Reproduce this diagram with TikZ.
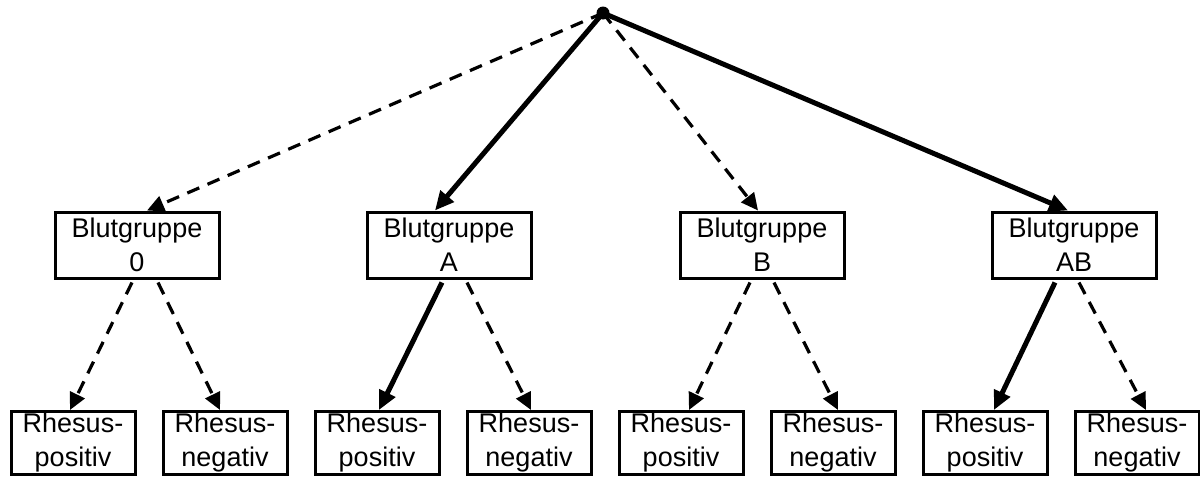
\documentclass[tikz,border=0pt]{standalone}
\usepackage{fontspec}
\setmainfont{Liberation Sans}
\usetikzlibrary{arrows.meta,calc}
\begin{document}
\begin{tikzpicture}[x=1pt,y=-1pt,
  every node/.style={font=\fontsize{27}{34}\selectfont},
  gbox/.style={draw,line width=3pt,minimum width=164pt,minimum height=66pt,inner sep=0pt,align=center},
  rbox/.style={draw,line width=3pt,minimum width=124pt,minimum height=63pt,inner sep=0pt,align=center},
  solidarrow/.style={line width=5pt,-{Triangle[length=19pt,width=17pt]}},
  dasharrow/.style={line width=3.2pt,dash pattern=on 13pt off 9pt,-{Triangle[length=17pt,width=16pt]}}]
\useasboundingbox (0,0) rectangle (1200,477);
\node[circle,fill,inner sep=0pt,minimum size=13pt] (root) at (603,13) {};
\node[gbox] (g0) at (137,245) {Blutgruppe\\0};
\node[gbox] (gA) at (449,245) {Blutgruppe\\A};
\node[gbox] (gB) at (762,245) {Blutgruppe\\B};
\node[gbox] (gAB) at (1074,245) {Blutgruppe\\AB};
\node[rbox] (r1) at (73,443) {Rhesus-\\positiv};
\node[rbox] (r2) at (225,443) {Rhesus-\\negativ};
\node[rbox] (r3) at (377,443) {Rhesus-\\positiv};
\node[rbox] (r4) at (529,443) {Rhesus-\\negativ};
\node[rbox] (r5) at (681,443) {Rhesus-\\positiv};
\node[rbox] (r6) at (833,443) {Rhesus-\\negativ};
\node[rbox] (r7) at (985,443) {Rhesus-\\positiv};
\node[rbox] (r8) at (1137,443) {Rhesus-\\negativ};
% top level
\draw[dasharrow] (root.center) -- ([xshift=10pt]g0.north);
\draw[solidarrow] (root.center) -- ([xshift=-14pt]gA.north);
\draw[dasharrow] (root.center) -- ([xshift=-4pt]gB.north);
\draw[solidarrow] (root.center) -- ([xshift=-6pt]gAB.north);
% second level
\draw[dasharrow] ([xshift=-5pt,yshift=-3pt]g0.south) -- ([xshift=-3pt]r1.north);
\draw[dasharrow] ([xshift=21pt,yshift=-3pt]g0.south) -- ([xshift=-5pt]r2.north);
\draw[solidarrow] ([xshift=-7pt,yshift=-3pt]gA.south) -- ([xshift=2pt]r3.north);
\draw[dasharrow] ([xshift=18pt,yshift=-3pt]gA.south) -- ([xshift=2pt]r4.north);
\draw[dasharrow] ([xshift=-12pt,yshift=-3pt]gB.south) -- ([xshift=8pt]r5.north);
\draw[dasharrow] ([xshift=12pt,yshift=-3pt]gB.south) -- ([xshift=5pt]r6.north);
\draw[solidarrow] ([xshift=-19pt,yshift=-3pt]gAB.south) -- ([xshift=9pt]r7.north);
\draw[dasharrow] ([xshift=5pt,yshift=-3pt]gAB.south) -- ([xshift=9pt]r8.north);
\end{tikzpicture}
\end{document}
